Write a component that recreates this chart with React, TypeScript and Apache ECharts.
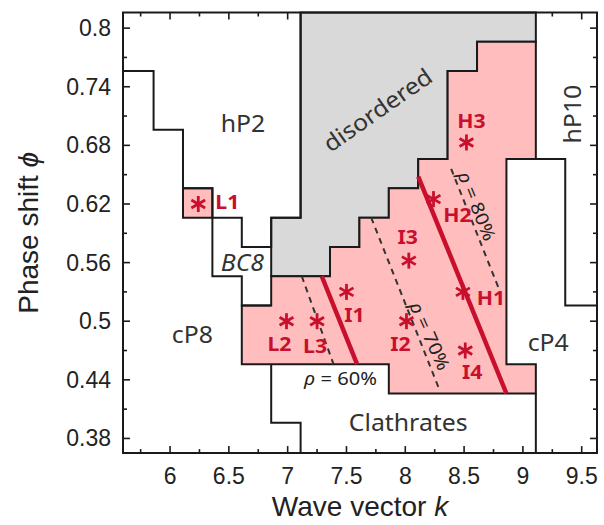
import React, { useEffect, useRef } from "react";
import * as echarts from "echarts";

// ---- axis ranges and ticks ----
const kRange = [5.6, 9.63];
const phiRange = [0.365, 0.816];
const xTickLabels = [6, 6.5, 7, 7.5, 8, 8.5, 9, 9.5];
const xMinorTicks = [5.75, 6.25, 6.75, 7.25, 7.75, 8.25, 8.75, 9.25];
const yTickLabels = [0.38, 0.44, 0.5, 0.56, 0.62, 0.68, 0.74, 0.8];
const yMinorTicks = [0.41, 0.47, 0.53, 0.59, 0.65, 0.71, 0.77];

// ---- phase regions (k, phi vertices) ----
const disorderedRegion = [
  [7.11, 0.816], [9.11, 0.816], [9.11, 0.786], [8.61, 0.786], [8.61, 0.756],
  [8.36, 0.756], [8.36, 0.666], [8.11, 0.666], [8.11, 0.636], [7.86, 0.636],
  [7.86, 0.606], [7.61, 0.606], [7.61, 0.576], [7.36, 0.576], [7.36, 0.546],
  [6.86, 0.546], [6.86, 0.606], [7.11, 0.606],
];
const stableRegion = [
  [6.61, 0.516], [6.86, 0.516], [6.86, 0.546], [7.36, 0.546], [7.36, 0.576],
  [7.61, 0.576], [7.61, 0.606], [7.86, 0.606], [7.86, 0.636], [8.11, 0.636],
  [8.11, 0.666], [8.36, 0.666], [8.36, 0.756], [8.61, 0.756], [8.61, 0.786],
  [9.11, 0.786], [9.11, 0.666], [8.86, 0.666], [8.86, 0.456], [9.11, 0.456],
  [9.11, 0.426], [7.86, 0.426], [7.86, 0.456], [6.61, 0.456],
];
const l1Cell = [[6.11, 0.636], [6.36, 0.636], [6.36, 0.606], [6.11, 0.606]];

// ---- phase boundaries ----
const hP2Boundary = [
  [5.6, 0.756], [5.86, 0.756], [5.86, 0.696], [6.11, 0.696], [6.11, 0.636],
  [6.36, 0.636], [6.36, 0.606], [6.61, 0.606], [6.61, 0.576], [6.86, 0.576],
  [6.86, 0.606], [7.11, 0.606], [7.11, 0.816],
];
const bc8Boundary = [[6.36, 0.606], [6.36, 0.546], [6.61, 0.546], [6.61, 0.516], [6.86, 0.516]];
const clathrateLeft = [[6.86, 0.456], [6.86, 0.396], [7.11, 0.396], [7.11, 0.365]];
const clathrateRight = [[9.11, 0.426], [9.11, 0.365]];
const cP4Boundary = [[8.86, 0.666], [9.36, 0.666], [9.36, 0.516], [9.63, 0.516]];
const boundaries = [hP2Boundary, bc8Boundary, clathrateLeft, clathrateRight, cP4Boundary];

// ---- density lines ----
const solidLines = [
  [[7.29, 0.546], [7.59, 0.456]],
  [[8.11, 0.648], [8.86, 0.426]],
];
const dashedLines = [
  [[7.12, 0.546], [7.39, 0.456]],
  [[7.71, 0.606], [8.29, 0.43]],
  [[8.39, 0.656], [8.79, 0.535]],
];

// ---- structures (stars) ----
const structureNames = ["L1", "L2", "L3", "I1", "I2", "I3", "I4", "H1", "H2", "H3"];
const structureK = [6.24, 6.99, 7.25, 7.5, 8.01, 8.03, 8.51, 8.49, 8.24, 8.52];
const structurePhi = [0.62, 0.5, 0.5, 0.53, 0.5, 0.562, 0.47, 0.53, 0.625, 0.683];

// ---- annotations ----
const regionLabelTexts = ["hP2", "disordered", "hP10", "BC8", "cP8", "cP4", "Clathrates"];
const regionLabelK = [6.62, 7.76, 9.415, 6.615, 6.19, 9.215, 8.025];
const regionLabelPhi = [0.703, 0.717, 0.712, 0.561, 0.487, 0.479, 0.397];
const rhoLabelTexts = ["60%", "70%", "80%"];
const rhoLabelK = [7.45, 8.21, 8.61];
const rhoLabelPhi = [0.441, 0.485, 0.618];

// ---- styles (not data) ----
const RED = "#c8102e";
const PINK = "#ffbdbd";
const GRAY = "#d9d9d9";
const INK = "#1a1a1a";
const TEXT = "#333333";
const MAJOR_LEN = 7;
const MINOR_LEN = 4;
const starLabelOffsets: Record<string, number[]> = {
  L1: [29, -3], L2: [-7, 22], L3: [-2, 24], I1: [8, 23], I2: [-6, 22],
  I3: [-1, -24], I4: [7, 21], H1: [28, 6], H2: [24, 15], H3: [5, -22],
};
const regionLabelRot = [0, 35, 90, 0, 0, 0, 0];
const rhoLabelRot = [0, -66, -68];
const AXIS_FONT = "'Liberation Sans', Arial, Helvetica, sans-serif";
const LABEL_FONT = "'Noto Sans', 'Open Sans', sans-serif";

function App() {
  const ref = useRef<HTMLDivElement>(null);

  useEffect(() => {
    document.body.style.margin = "0";
    if (!ref.current) return;
    const chart = echarts.init(ref.current, undefined, { renderer: "svg" });

    const nameStyle = {
      fontSize: 28,
      fontFamily: AXIS_FONT,
      color: "#222",
      rich: { i: { fontSize: 28, fontStyle: "italic", fontFamily: AXIS_FONT, color: "#222" } },
    };

    const regions = [
      { pts: disorderedRegion, fill: GRAY },
      { pts: stableRegion, fill: PINK },
      { pts: l1Cell, fill: PINK },
    ];

    // the disordered region touches the top edge between its first two vertices;
    // top ticks there are hidden under the gray fill in the original figure
    const grayTopFrom = disorderedRegion[0][0];
    const grayTopTo = disorderedRegion[1][0];

    const xTicks = [
      ...xTickLabels.map((v) => ({ v, len: MAJOR_LEN })),
      ...xMinorTicks.map((v) => ({ v, len: MINOR_LEN })),
    ];
    const yTicks = [
      ...yTickLabels.map((v) => ({ v, len: MAJOR_LEN })),
      ...yMinorTicks.map((v) => ({ v, len: MINOR_LEN })),
    ];

    const base = {
      type: "custom",
      coordinateSystem: "cartesian2d",
      xAxisIndex: 0,
      yAxisIndex: 0,
      silent: true,
      clip: false,
    };

    const seg = (x1: number, y1: number, x2: number, y2: number, w: number) => ({
      type: "polyline",
      shape: { points: [[x1, y1], [x2, y2]] },
      style: { fill: "none", stroke: INK, lineWidth: w },
    });

    const option: any = {
      animation: false,
      backgroundColor: "#ffffff",
      grid: { left: 123, right: 7, top: 12.5, bottom: 70, show: false },
      xAxis: {
        type: "value",
        min: kRange[0],
        max: kRange[1],
        axisLine: { show: false },
        axisTick: { show: false },
        splitLine: { show: false },
        axisLabel: {
          show: true,
          customValues: xTickLabels,
          fontSize: 23,
          fontFamily: AXIS_FONT,
          color: "#222",
          margin: 11,
          formatter: (v: number) => String(v),
        },
        name: "Wave vector {i|k}",
        nameLocation: "middle",
        nameGap: 38,
        nameTextStyle: nameStyle,
      },
      yAxis: {
        type: "value",
        min: phiRange[0],
        max: phiRange[1],
        axisLine: { show: false },
        axisTick: { show: false },
        splitLine: { show: false },
        axisLabel: {
          show: true,
          customValues: yTickLabels,
          fontSize: 23,
          fontFamily: AXIS_FONT,
          color: "#222",
          margin: 12,
          formatter: (v: number) => String(Math.round(v * 100) / 100),
        },
        name: "Phase shift {i|ϕ}",
        nameLocation: "middle",
        nameRotate: 90,
        nameGap: 81,
        nameTextStyle: nameStyle,
      },
      series: [
        {
          ...base,
          name: "regions",
          data: regions.map((r) => r.pts[0]),
          renderItem: (params: any, api: any) => {
            const r = regions[params.dataIndex];
            return {
              type: "polygon",
              shape: { points: r.pts.map((p) => api.coord(p)) },
              style: { fill: r.fill, stroke: INK, lineWidth: 2 },
            };
          },
        },
        {
          ...base,
          name: "boundaries",
          data: boundaries.map((b) => b[0]),
          renderItem: (params: any, api: any) => ({
            type: "polyline",
            shape: { points: boundaries[params.dataIndex].map((p) => api.coord(p)) },
            style: { fill: "none", stroke: INK, lineWidth: 2 },
          }),
        },
        {
          ...base,
          name: "dashed",
          data: dashedLines.map((l) => l[0]),
          renderItem: (params: any, api: any) => ({
            type: "polyline",
            shape: { points: dashedLines[params.dataIndex].map((p) => api.coord(p)) },
            style: { fill: "none", stroke: "#333", lineWidth: 2, lineDash: [6, 5] },
          }),
        },
        {
          ...base,
          name: "solid",
          data: solidLines.map((l) => l[0]),
          renderItem: (params: any, api: any) => ({
            type: "polyline",
            shape: { points: solidLines[params.dataIndex].map((p) => api.coord(p)) },
            style: { fill: "none", stroke: RED, lineWidth: 4.5 },
          }),
        },
        {
          ...base,
          name: "structures",
          data: structureNames.map((n, i) => [structureK[i], structurePhi[i]]),
          renderItem: (params: any, api: any) => {
            const name = structureNames[params.dataIndex];
            const [cx, cy] = api.coord([api.value(0), api.value(1)]);
            const r = 8;
            const children: any[] = [90, 30, -30].map((a) => {
              const t = (a * Math.PI) / 180;
              return {
                type: "line",
                shape: {
                  x1: cx - r * Math.cos(t),
                  y1: cy - r * Math.sin(t),
                  x2: cx + r * Math.cos(t),
                  y2: cy + r * Math.sin(t),
                },
                style: { stroke: RED, lineWidth: 2.8 },
              };
            });
            const off = starLabelOffsets[name];
            children.push({
              type: "text",
              x: cx + off[0],
              y: cy + off[1],
              scaleX: 1.12,
              style: {
                text: name,
                fill: RED,
                fontSize: 19,
                fontWeight: "bold",
                fontFamily: LABEL_FONT,
                align: "center",
                verticalAlign: "middle",
              },
            });
            return { type: "group", children };
          },
        },
        {
          ...base,
          name: "regionLabels",
          data: regionLabelTexts.map((t, i) => [regionLabelK[i], regionLabelPhi[i]]),
          renderItem: (params: any, api: any) => {
            const i = params.dataIndex;
            const [x, y] = api.coord([api.value(0), api.value(1)]);
            const txt = regionLabelTexts[i];
            return {
              type: "text",
              x,
              y,
              rotation: (regionLabelRot[i] * Math.PI) / 180,
              scaleX: 1.08,
              style: {
                text: txt,
                fill: TEXT,
                fontSize: 23,
                fontStyle: txt === "BC8" ? "italic" : "normal",
                fontFamily: LABEL_FONT,
                align: "center",
                verticalAlign: "middle",
              },
            };
          },
        },
        {
          ...base,
          name: "rhoLabels",
          data: rhoLabelTexts.map((t, i) => [rhoLabelK[i], rhoLabelPhi[i]]),
          renderItem: (params: any, api: any) => {
            const i = params.dataIndex;
            const [x, y] = api.coord([api.value(0), api.value(1)]);
            return {
              type: "text",
              x,
              y,
              rotation: (rhoLabelRot[i] * Math.PI) / 180,
              scaleX: 1.12,
              style: {
                text: "{i|ρ} = " + rhoLabelTexts[i],
                fill: "#222",
                fontSize: 18,
                fontFamily: LABEL_FONT,
                align: "center",
                verticalAlign: "middle",
                rich: {
                  i: { fontStyle: "italic", fontSize: 18, fontFamily: LABEL_FONT, fill: "#222" },
                },
              },
            };
          },
        },
        {
          ...base,
          name: "frame",
          data: [[kRange[0], phiRange[0]]],
          renderItem: (params: any, api: any) => {
            const a = api.coord([kRange[0], phiRange[1]]);
            const b = api.coord([kRange[1], phiRange[0]]);
            const children: any[] = [];
            xTicks.forEach((t) => {
              const x = api.coord([t.v, phiRange[0]])[0];
              children.push(seg(x, b[1], x, b[1] - t.len, 1.6));
              if (!(t.v > grayTopFrom && t.v < grayTopTo)) {
                children.push(seg(x, a[1], x, a[1] + t.len, 1.6));
              }
            });
            yTicks.forEach((t) => {
              const y = api.coord([kRange[0], t.v])[1];
              children.push(seg(a[0], y, a[0] + t.len, y, 1.6));
              children.push(seg(b[0], y, b[0] - t.len, y, 1.6));
            });
            children.push({
              type: "rect",
              shape: { x: a[0], y: a[1], width: b[0] - a[0], height: b[1] - a[1] },
              style: { fill: "none", stroke: INK, lineWidth: 2 },
            });
            return { type: "group", children };
          },
        },
      ],
    };

    chart.setOption(option);
    return () => chart.dispose();
  }, []);

  return <div ref={ref} style={{ width: 604, height: 525 }} />;
}

export default App;
